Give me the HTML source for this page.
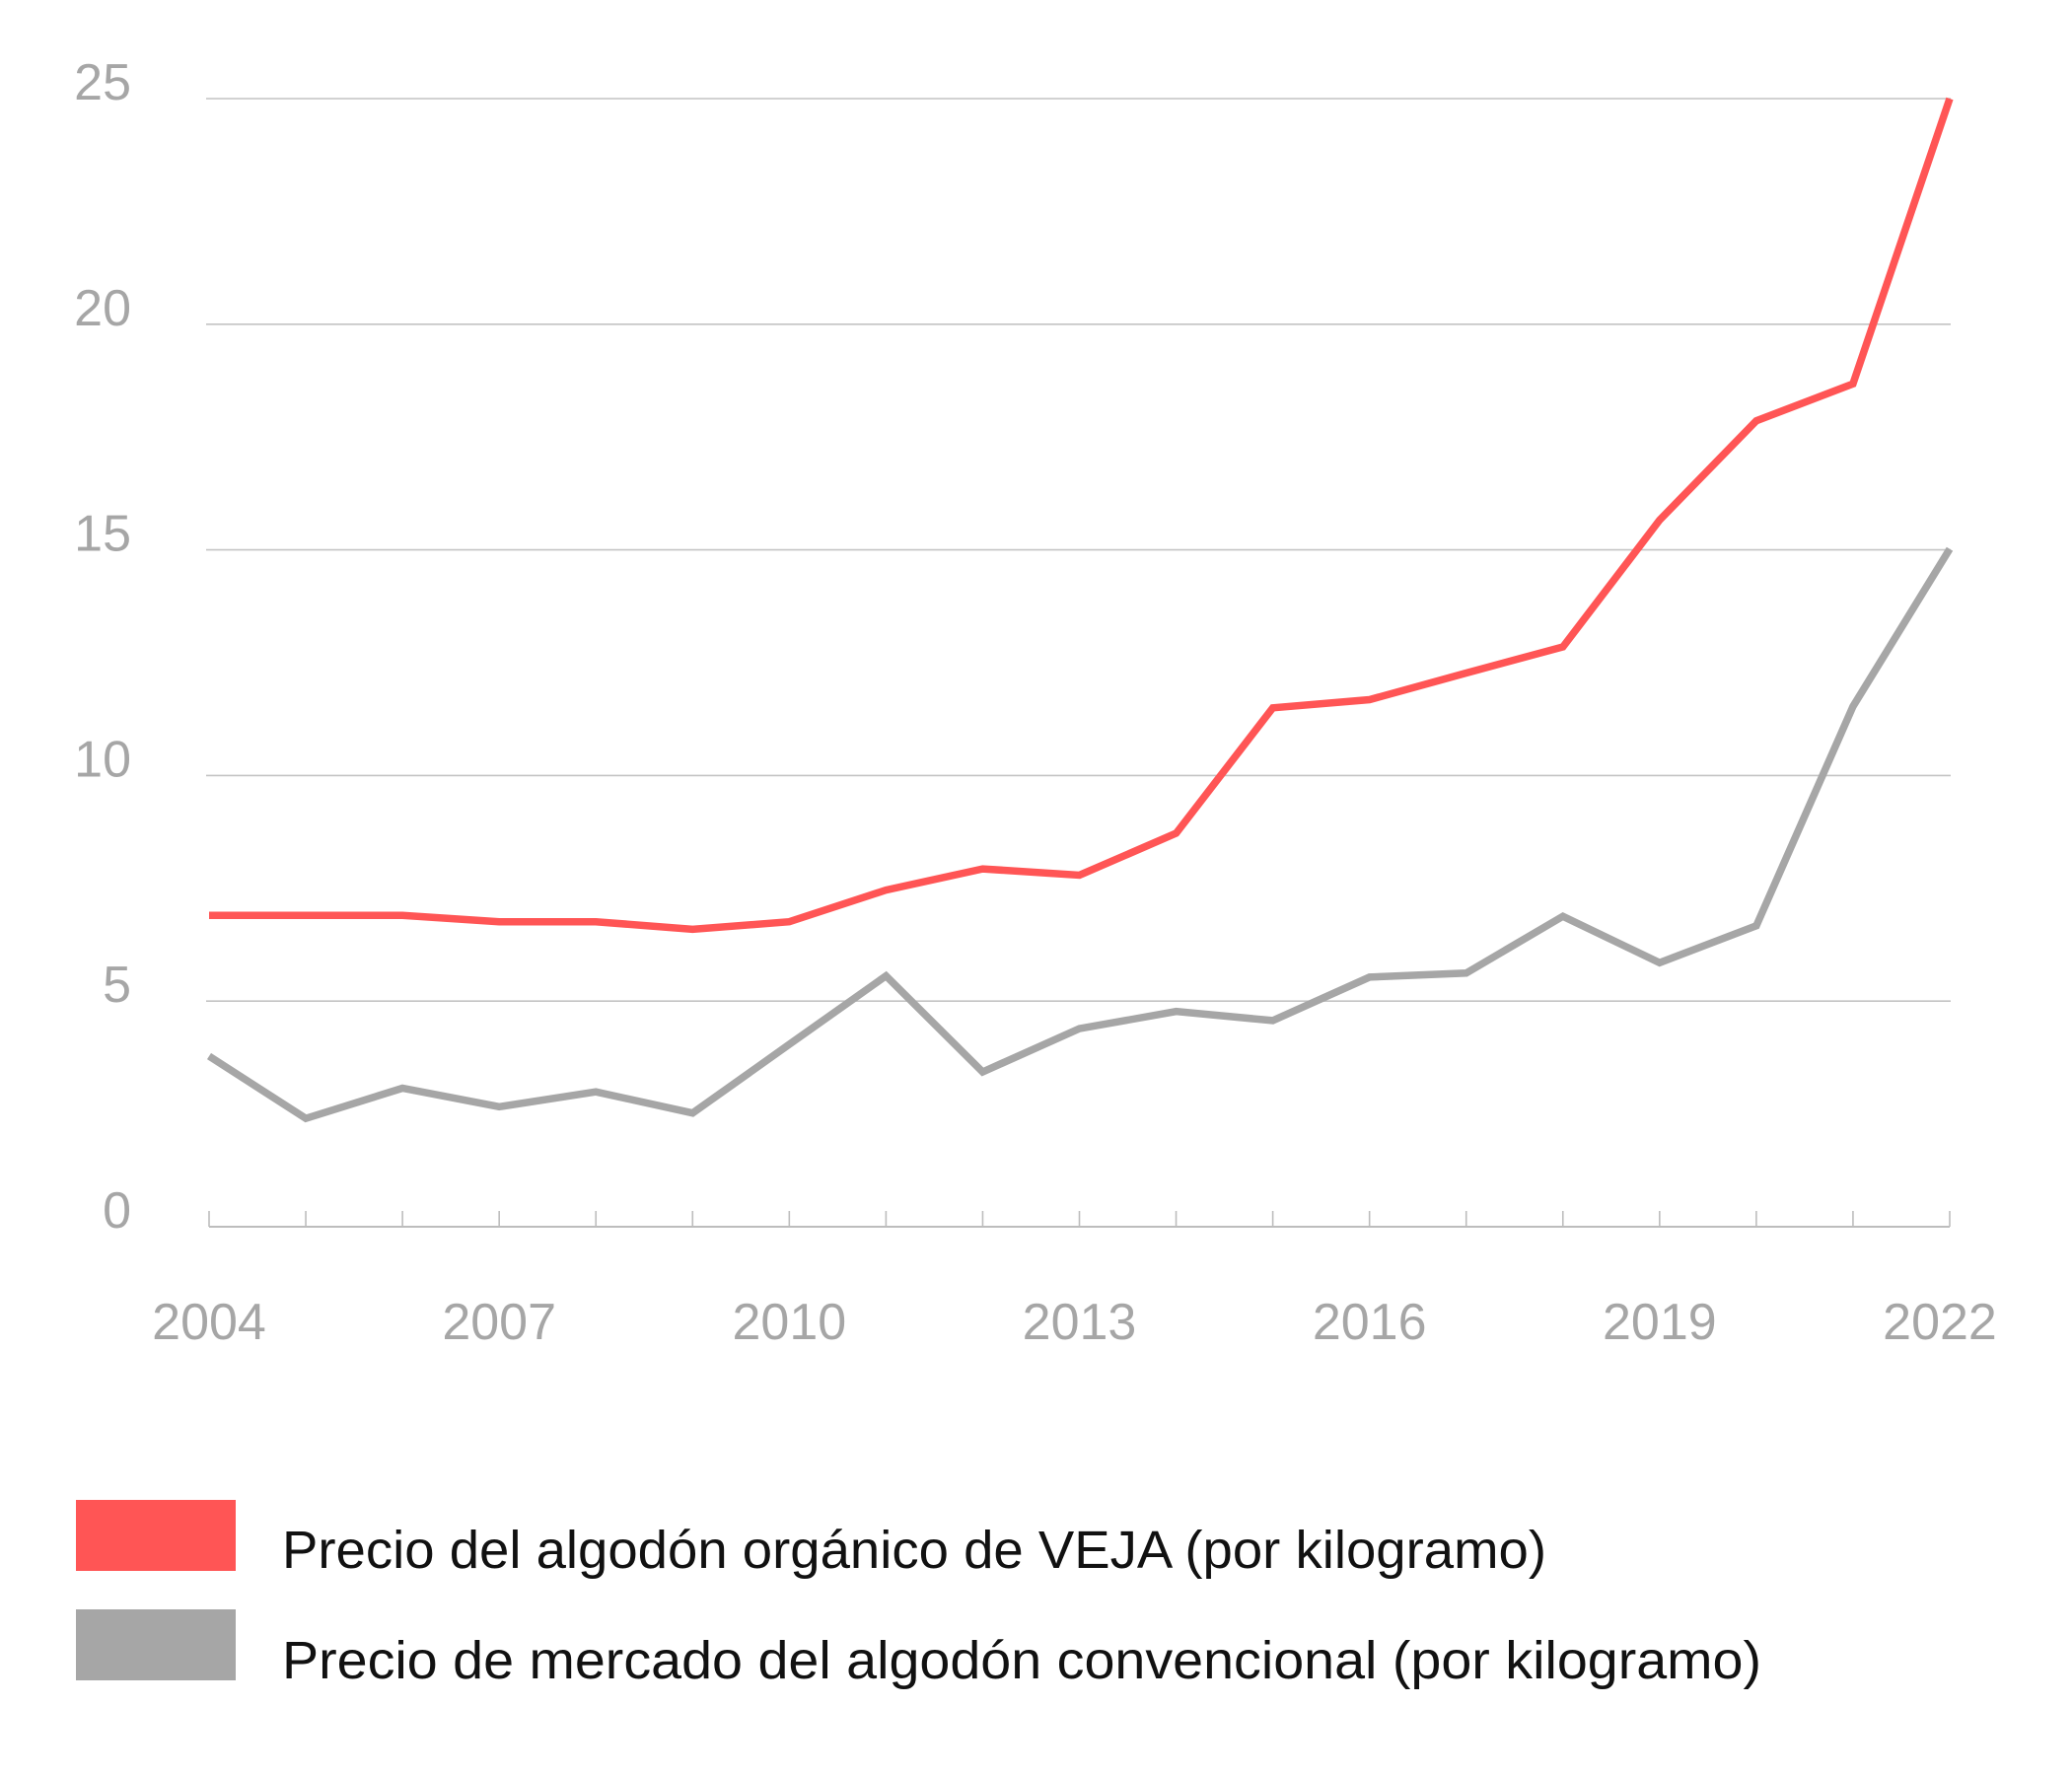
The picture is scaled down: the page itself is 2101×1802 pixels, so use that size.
<!DOCTYPE html>
<html><head><meta charset="utf-8"><style>
html,body{margin:0;padding:0;background:#fff;}
svg{display:block;font-family:"Liberation Sans",sans-serif;}
</style></head><body>
<svg id="chart" width="2101" height="1802" viewBox="0 0 2101 1802" xmlns="http://www.w3.org/2000/svg">
<g id="grid"></g>
<g id="yticks"></g>
<g id="xaxis"></g>
<g id="series"></g>
<g>
<rect x="77" y="1521" width="162" height="72" fill="#ff5555"/>
<text x="286" y="1590" font-size="54" fill="#111" textLength="1282" lengthAdjust="spacingAndGlyphs">Precio del algodón orgánico de VEJA (por kilogramo)</text>
<rect x="77" y="1632" width="162" height="72" fill="#a6a6a6"/>
<text x="286" y="1702" font-size="54" fill="#111" textLength="1500" lengthAdjust="spacingAndGlyphs">Precio de mercado del algodón convencional (por kilogramo)</text>
</g>
</svg>
<script>
const years = [2004,2005,2006,2007,2008,2009,2010,2011,2012,2013,2014,2015,2016,2017,2018,2019,2020,2021,2022];
const vejaPrices = [6.9,6.9,6.9,6.76,6.76,6.59,6.76,7.46,7.93,7.79,8.72,11.5,11.68,12.27,12.85,15.66,17.86,18.68,25];
const marketPrices = [3.78,2.4,3.07,2.66,2.99,2.52,4.04,5.56,3.43,4.39,4.77,4.57,5.53,5.62,6.88,5.85,6.67,11.53,15.02];
const yTicks = [0,5,10,15,20,25];
const xLabelYears = [2004,2007,2010,2013,2016,2019,2022];

const NS = "http://www.w3.org/2000/svg";
const X0 = 212, X1 = 1977, Y0 = 1244, Y25 = 100;
const xScale = y => X0 + (y - years[0]) / (years[years.length-1] - years[0]) * (X1 - X0);
const yScale = v => Y0 - v / 25 * (Y0 - Y25);
function mk(tag, attrs, parent){const e=document.createElementNS(NS,tag);for(const k in attrs)e.setAttribute(k,attrs[k]);parent.appendChild(e);return e;}

const grid = document.getElementById('grid');
const yt = document.getElementById('yticks');
yTicks.forEach(v => {
  if (v > 0) {
    const l = mk('line',{x1:209,x2:1978,y1:yScale(v),y2:yScale(v),stroke:'#c4c4c4','stroke-width':1.6},grid);
    
    
  }
  const t = mk('text',{x:133,y:yScale(v)+1,'text-anchor':'end','font-size':52,fill:'#a6a6a6'},yt);
  t.textContent = v;
  
  
});

const xa = document.getElementById('xaxis');
const axis = mk('line',{x1:X0,x2:X1,y1:Y0,y2:Y0,stroke:'#bdbdbd','stroke-width':2},xa);


years.forEach(y => {
  const tk = mk('line',{x1:xScale(y),x2:xScale(y),y1:Y0-16,y2:Y0,stroke:'#bdbdbd','stroke-width':1.6},xa);
  
  
});
xLabelYears.forEach((y, i) => {
  const off = i === xLabelYears.length - 1 ? -10 : 0;
  const t = mk('text',{x:xScale(y)+off,y:1358,'text-anchor':'middle','font-size':52,fill:'#a6a6a6'},xa);
  t.textContent = y;
  
  
});

const sg = document.getElementById('series');
function drawLine(vals, color, name){
  const d = vals.map((v,i)=>(i?'L':'M')+xScale(years[i]).toFixed(1)+','+yScale(v).toFixed(1)).join(' ');
  const p = mk('path',{d:d,fill:'none',stroke:color,'stroke-width':7.5,'stroke-linejoin':'miter'},sg);
  
  
}
drawLine(marketPrices, '#a6a6a6', 'market-price-line');
drawLine(vejaPrices, '#ff5555', 'veja-price-line');
</script>
</body></html>
